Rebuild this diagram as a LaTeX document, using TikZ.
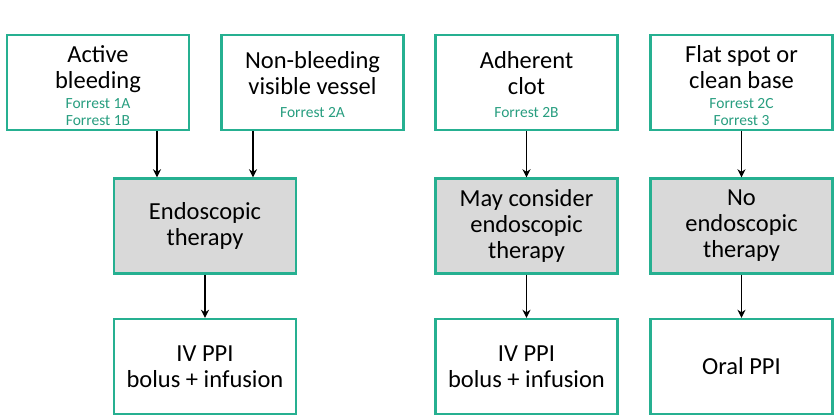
\documentclass[tikz,border=0pt]{standalone}
\usepackage{fontspec}
\setmainfont{Carlito}
\usetikzlibrary{arrows.meta}
\definecolor{frame}{RGB}{38,176,145}
\definecolor{forrest}{RGB}{40,158,128}
\definecolor{shade}{RGB}{217,217,217}
\newcommand{\fr}[1]{{\fontsize{15.5}{17}\selectfont\color{forrest}#1}}
\begin{document}
\begin{tikzpicture}[x=1pt,y=1pt,
    box/.style={draw=frame,line width=2.4pt,fill=white,align=center,
      minimum width=182pt,minimum height=95pt,inner sep=0pt,
      font=\fontsize{24.5}{26}\selectfont},
    grey/.style={box,fill=shade},
    arr/.style={-{Stealth[length=8pt,width=8pt]},line width=1.4pt}]
  \useasboundingbox (0,0) rectangle (840,420);
  % top row
  \draw
    (98,337.5) node[box] (active){\rule{0pt}{23pt}Active\\bleeding\\[-6pt]\fr{Forrest 1A}\\[-9pt]\fr{Forrest 1B}}
    (312.5,337.5) node[box] (vessel){\rule{0pt}{21pt}Non-bleeding\\visible vessel\\[-3pt]\fr{Forrest 2A}}
    (526.5,337.5) node[box] (clot){\rule{0pt}{21pt}Adherent\\clot\\[-3pt]\fr{Forrest 2B}}
    (741.5,337.5) node[box] (flat){\rule{0pt}{23pt}Flat spot or\\clean base\\[-6pt]\fr{Forrest 2C}\\[-9pt]\fr{Forrest 3}};
  % middle row
  \draw
    (205,194) node[grey] (endo){Endoscopic\\therapy}
    (526.5,194) node[grey] (maybe){May consider\\endoscopic\\therapy}
    (741.5,194) node[grey] (noendo){No\\endoscopic\\therapy};
  % bottom row
  \draw
    (205,53.5) node[box] (iv1){IV PPI\\bolus + infusion}
    (526.5,53.5) node[box] (iv2){IV PPI\\bolus + infusion}
    (741.5,53.5) node[box] (oral){Oral PPI};
  \begin{scope}[arr]
    \draw ([xshift=-48pt]endo.north |- active.south) -- ([xshift=-48pt]endo.north);
    \draw ([xshift=48pt]endo.north |- vessel.south) -- ([xshift=48pt]endo.north);
    \draw (clot) -- (maybe);
    \draw (flat) -- (noendo);
    \draw (endo) -- (iv1);
    \draw (maybe) -- (iv2);
    \draw (noendo) -- (oral);
  \end{scope}
\end{tikzpicture}
\end{document}
